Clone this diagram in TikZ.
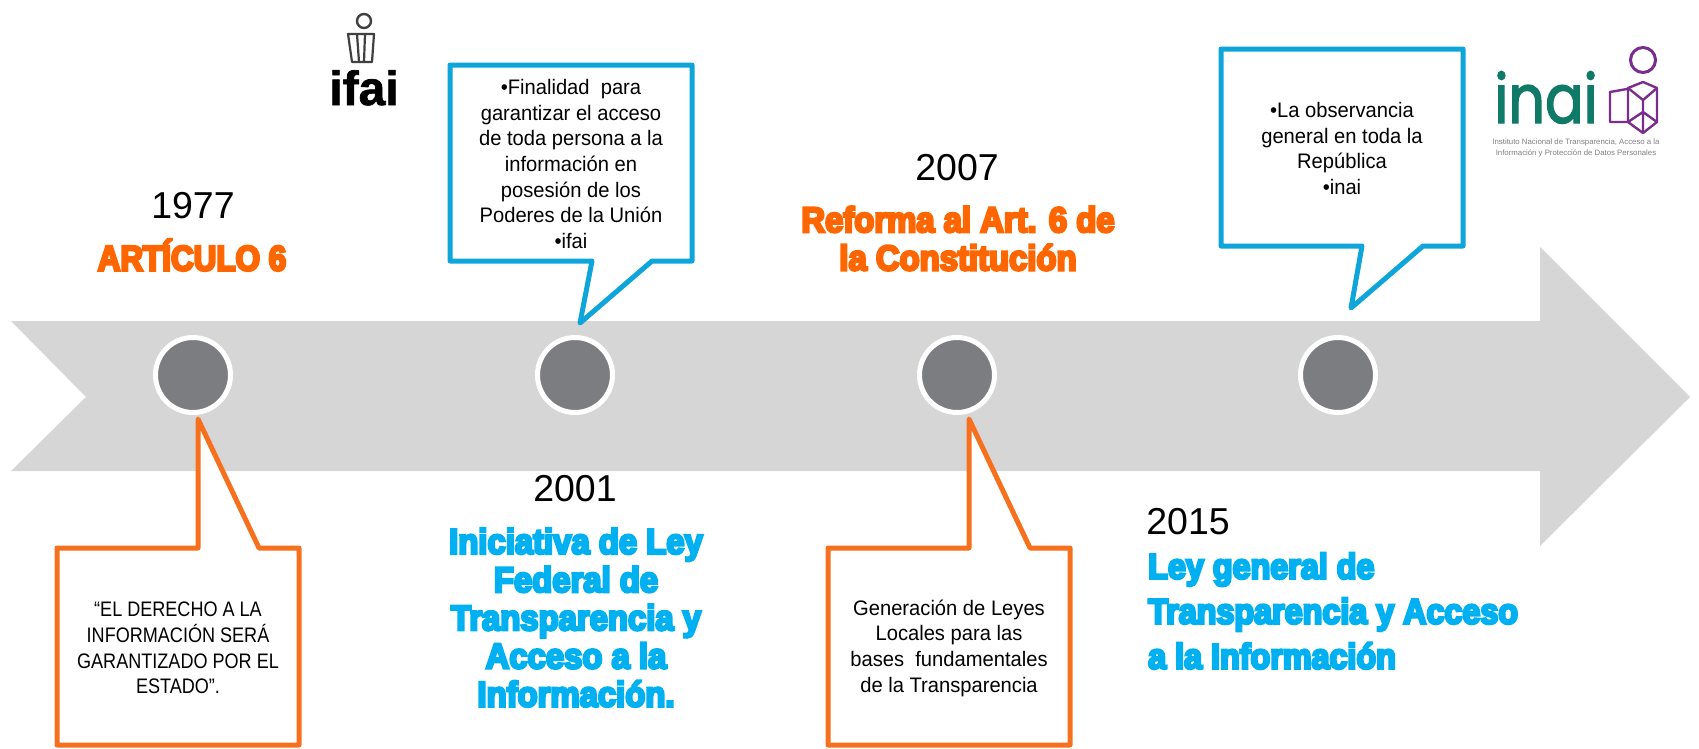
\documentclass[tikz,border=0pt]{standalone}
\usepackage{fontspec}
\setmainfont{Liberation Sans}
\newfontfamily\heavyf[FakeBold=7,FakeStretch=0.925]{Liberation Sans Bold}
\newfontfamily\heavycapsf[FakeBold=7,FakeStretch=0.885]{Liberation Sans Bold}
\newfontfamily\heavywidef[FakeBold=7,FakeStretch=0.91]{Liberation Sans Bold}
\newfontfamily\logof[FakeBold=1.5]{Liberation Sans Bold}
\newfontfamily\inaif[FakeStretch=0.84,FakeBold=2]{Poppins}
\newfontfamily\bodyf[FakeStretch=0.96]{Liberation Sans}
\newfontfamily\capsf[FakeStretch=0.86]{Liberation Sans}
\definecolor{bar}{HTML}{D6D6D6}
\definecolor{dot}{HTML}{7C7D80}
\definecolor{lineblue}{HTML}{0EA5DB}
\definecolor{lineorange}{HTML}{F7701E}
\definecolor{headorange}{HTML}{FF6600}
\definecolor{headblue}{HTML}{00B0F0}
\definecolor{teal}{HTML}{107A68}
\definecolor{logopurple}{HTML}{7B2D8E}
\tikzset{
  callout/.style={line width=5pt,line join=round,fill=white},
  marker/.style={circle,inner sep=0pt,minimum size=75pt,draw=white,line width=5pt,fill=dot},
  bodytext/.style={align=center,inner sep=0pt,text=black,font=\bodyf\fontsize{21}{25.7}\selectfont},
  yeartext/.style={anchor=base,inner sep=0pt,text=black,font=\fontsize{37.5}{40}\selectfont},
  headtext/.style={align=center,inner sep=0pt,font=\heavyf\fontsize{35.5}{38.2}\selectfont},
  logoline/.style={draw=logopurple,line width=2.4pt,line join=round},
}
\begin{document}
\begin{tikzpicture}[x=1pt,y=-1pt]
\useasboundingbox (0,0) rectangle (1699,748);
\fill[bar] (11,321) -- (1540,321) -- (1540,247) -- (1690,397) -- (1540,546) -- (1540,471) -- (11,471) -- (86,397) -- cycle;
\node[marker] (m1) at (193,375) {};
\node[marker] (m2) at (575,375) {};
\node[marker] (m3) at (957,375) {};
\node[marker] (m4) at (1338,375) {};
% callouts
\draw[callout,draw=lineblue] (450,65) -- (692,65) -- (692,261) -- (652,261) -- (580,323) -- (592,261) -- (450,261) -- cycle;
\draw[callout,draw=lineblue] (1221,49) -- (1463,49) -- (1463,246) -- (1423,246) -- (1351,308) -- (1362,246) -- (1221,246) -- cycle;
\draw[callout,draw=lineorange] (57,548) -- (198,548) -- (198,419) -- (259,548) -- (299,548) -- (299,745) -- (57,745) -- cycle;
\draw[callout,draw=lineorange] (828,548) -- (969,548) -- (969,419) -- (1030,548) -- (1070,548) -- (1070,745) -- (828,745) -- cycle;
% callout texts
\node[bodytext] (t1) at (571,164) {•Finalidad\ \ para\\garantizar el acceso\\de toda persona a la\\información en\\posesión de los\\Poderes de la Unión\\•ifai};
\node[bodytext] (t2) at (1342,148.5) {•La observancia\\general en toda la\\República\\•inai};
\node[bodytext,font=\capsf\fontsize{21}{25.7}\selectfont] (t3) at (178,648) {“EL DERECHO A LA\\INFORMACIÓN SERÁ\\GARANTIZADO POR EL\\ESTADO”.};
\node[bodytext] (t4) at (949,648) {Generación de Leyes\\Locales para las\\bases\ \ fundamentales\\de la Transparencia};
% years
\node[yeartext] (y1) at (193,218) {1977};
\node[yeartext] (y2) at (575,501) {2001};
\node[yeartext] (y3) at (957,180) {2007};
\node[yeartext] (y4) at (1188,534) {2015};
% headings
\node[headtext,text=headorange,font=\heavycapsf\fontsize{35.5}{38.2}\selectfont] (h1) at (192,255) {ARTÍCULO 6};
\node[headtext,text=headblue] (h2) at (576,617.5) {Iniciativa de Ley\\Federal de\\Transparencia y\\Acceso a la\\Información.};
\node[headtext,text=headorange] (h3) at (958,238.5) {Reforma al Art. 6 de\\la Constitución};
\node[headtext,text=headblue,align=left,anchor=west,font=\heavywidef\fontsize{35.5}{45}\selectfont] (h4) at (1148,611) {Ley general de\\Transparencia y Acceso\\a la Información};
% ifai logo
\node[anchor=base,inner sep=0pt,text=black,font=\logof\fontsize{48}{50}\selectfont] (ifai) at (364,105) {ifai};
\draw[draw=black!75,line width=2.4pt] (364,21) circle (7);
\draw[draw=black!75,line width=2.2pt,line join=round] (348,34) -- (374,34) -- (372,62) -- (352,62) -- cycle (357,34) -- (359,62) (365,34) -- (364,62);
% inai logo
\node[anchor=base,inner sep=0pt,text=teal,font=\inaif\fontsize{68}{70}\selectfont] (inai) at (1546,123) {inai};
\draw[logoline,line width=3pt] (1643,60) circle (12.5);
\draw[logoline] (1627,89) -- (1610,92) -- (1610,122) -- (1628,122);
\draw[logoline] (1643,82) -- (1657,88) -- (1657,122) -- (1643,133) -- (1628,122) -- (1628,88) -- cycle;
\draw[logoline] (1628,88) -- (1643,100) -- (1657,88) (1643,100) -- (1643,133) (1628,122) -- (1643,112) -- (1657,122);
\node[inner sep=0pt,align=center,text=black!50,font=\fontsize{7.8}{11}\selectfont] (inaisub) at (1576,147.5) {Instituto Nacional de Transparencia, Acceso a la\\Información y Protección de Datos Personales};
\end{tikzpicture}
\end{document}
